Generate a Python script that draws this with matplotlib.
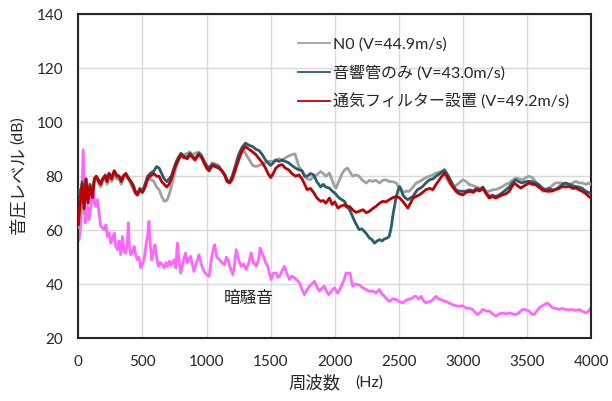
import matplotlib
matplotlib.use("Agg")
import matplotlib.pyplot as plt

plt.rcParams['font.family'] = ['Lato', 'Noto Sans CJK JP', 'DejaVu Sans']

# ---- data ----
label_n0 = "N0 (V=44.9m/s)"
label_tube = "音響管のみ (V=43.0m/s)"
label_filter = "通気フィルター設置 (V=49.2m/s)"
label_bg = "暗騒音"
xlabel_main, xlabel_unit = "周波数", "(Hz)"
ylabel_main, ylabel_unit = "音圧レベル", "(dB)"

freq_n0 = [0, 15, 30, 45, 60, 75, 90, 110, 125, 140, 160, 175, 190, 210, 225, 240, 260, 280, 300, 318,
           335, 350, 370, 390, 410, 430, 445, 460, 480, 500, 520, 540, 560, 590, 610, 630, 650, 670, 690, 707,
           725, 745, 760, 780, 800, 820, 850, 870, 890, 910, 940, 960, 980, 1000, 1020, 1045, 1070, 1095, 1120, 1145,
           1160, 1180, 1200, 1225, 1245, 1265, 1290, 1310, 1335, 1360, 1385, 1410, 1435, 1460, 1490, 1515, 1540, 1565, 1590, 1620,
           1640, 1665, 1690, 1705, 1720, 1745, 1765, 1785, 1810, 1835, 1860, 1890, 1910, 1930, 1958, 1980, 2000, 2010, 2035, 2060,
           2080, 2100, 2120, 2140, 2165, 2190, 2215, 2245, 2270, 2295, 2320, 2350, 2375, 2400, 2425, 2450, 2480, 2505, 2530, 2555,
           2580, 2610, 2635, 2660, 2685, 2710, 2740, 2765, 2790, 2815, 2840, 2860, 2880, 2900, 2920, 2945, 2970, 3000, 3025, 3050,
           3080, 3105, 3130, 3155, 3180, 3205, 3230, 3255, 3280, 3310, 3335, 3360, 3385, 3410, 3440, 3465, 3490, 3515, 3540, 3565,
           3590, 3620, 3645, 3670, 3695, 3720, 3750, 3775, 3800, 3830, 3855, 3880, 3905, 3930, 3960, 3980, 4000]
level_n0 = [61, 68, 72, 66, 77, 70, 75, 73, 78, 79, 77, 76, 78, 79, 77, 80, 78, 80.5, 79, 79,
            77, 79, 80.5, 79.5, 77, 75, 73.5, 73, 74.5, 74, 76, 78.5, 79, 78, 76, 75, 72.5, 70.7, 71, 73,
            76, 80, 83, 86, 87.5, 88, 88.5, 89, 88, 88.5, 89, 88, 86, 84, 83, 85, 84.5, 84, 82, 80,
            78.5, 77.5, 78.5, 82, 87, 88.6, 89.5, 88, 86, 84, 83.6, 84, 84.5, 85, 85.5, 85.5, 86, 86.5, 86, 87,
            87.5, 88, 88.3, 86, 83.6, 82, 80, 79, 78.7, 80, 80.5, 81.8, 81, 80, 81.2, 78.5, 76, 75.6, 78.5, 81.2,
            82.5, 83, 81.5, 80, 80.5, 80, 78.5, 77.5, 78.5, 78.1, 78.5, 77.5, 78.5, 78.7, 78, 78, 77.5, 75.5, 73.8, 74.5,
            74.4, 76, 77.5, 78, 78.7, 79.5, 80, 80.5, 81.2, 81.5, 81.8, 80.5, 78.5, 77, 76.2, 76.5, 77.5, 78.7, 78, 76.9,
            76.5, 76, 75.6, 75, 74.5, 74.4, 75, 75, 75.5, 76.2, 77, 77.5, 78.5, 79.3, 79, 78.7, 79.5, 80, 79.5, 78.1,
            76.5, 74.4, 75, 75.6, 76.5, 77.5, 77.5, 77.5, 77, 76.9, 77.5, 78.1, 77.5, 77.5, 77, 77.5, 76.9]

freq_tube = [0, 15, 30, 45, 60, 75, 90, 110, 125, 140, 160, 175, 190, 210, 225, 240, 260, 280, 300, 318,
             335, 350, 370, 390, 410, 430, 445, 460, 480, 500, 520, 540, 560, 590, 610, 630, 650, 670, 690, 707,
             725, 745, 760, 780, 800, 820, 850, 870, 890, 910, 940, 960, 980, 1000, 1020, 1045, 1070, 1095, 1120, 1145,
             1160, 1180, 1200, 1225, 1250, 1280, 1305, 1330, 1360, 1385, 1410, 1435, 1460, 1480, 1500, 1520, 1540, 1565, 1590, 1615,
             1640, 1665, 1695, 1720, 1745, 1765, 1785, 1810, 1835, 1860, 1890, 1910, 1930, 1958, 1980, 2000, 2035, 2075, 2095, 2115,
             2135, 2155, 2175, 2190, 2210, 2230, 2250, 2270, 2290, 2310, 2330, 2350, 2370, 2385, 2405, 2425, 2440, 2455, 2470, 2480,
             2495, 2505, 2520, 2530, 2550, 2570, 2590, 2610, 2630, 2645, 2665, 2685, 2710, 2740, 2765, 2790, 2820, 2855, 2875, 2895,
             2920, 2945, 2970, 3000, 3025, 3050, 3080, 3105, 3130, 3155, 3180, 3205, 3230, 3255, 3280, 3310, 3335, 3360, 3385, 3410,
             3435, 3460, 3490, 3515, 3540, 3565, 3590, 3620, 3645, 3670, 3695, 3720, 3750, 3775, 3800, 3830, 3855, 3880, 3905, 3930,
             3960, 3980, 4000]
level_tube = [75, 72, 78, 70, 79, 72, 77, 74, 79, 80, 78.5, 78, 79, 80.5, 78.5, 81, 79.5, 82, 80.5, 80,
              78.5, 80, 81, 79.5, 78, 76.5, 74.5, 73.5, 75.5, 74.5, 77, 80, 81, 82, 83.6, 83, 81, 79, 78, 79,
              80, 83, 85, 87, 88.5, 87.5, 87, 88.5, 87.5, 86.5, 88.5, 87.5, 85.5, 84, 83, 84.5, 84, 83.5, 82, 80.5,
              78.5, 78, 80, 84, 88, 91, 92.3, 91.5, 91, 90, 89.5, 88, 86, 85, 84, 85, 86, 85.5, 86, 85.5,
              85, 84, 83, 82.4, 82, 80, 80, 81, 80.5, 78, 76, 77, 76, 75.6, 74.5, 73.8, 71.9, 70.7, 69, 67.6,
              65.5, 63.3, 61.5, 60.2, 60.5, 59.6, 58.5, 57.1, 56.5, 55.2, 56, 56.5, 56, 56.7, 57, 57.7, 61, 66, 70, 72.5,
              75, 76.2, 75, 73.1, 72, 71.3, 72, 72.5, 74, 75, 75.5, 76.2, 77.5, 78.7, 79, 80, 81, 82.4, 81, 79.3,
              77, 75, 74.5, 74.4, 74.5, 75, 74.5, 75.5, 75, 76, 74, 72.5, 73, 72.5, 73, 74, 75, 76, 77.5, 78.7,
              78, 77.5, 78, 78.1, 78, 77.5, 77, 75.6, 75, 75.5, 75, 75, 76, 77, 77.5, 77, 76.5, 76.2, 76, 75.5,
              74.4, 74, 73.5]

freq_filter = [0, 15, 30, 45, 60, 75, 90, 110, 125, 140, 160, 175, 190, 210, 225, 240, 260, 280, 300, 318,
               335, 350, 370, 390, 410, 430, 445, 460, 480, 500, 520, 540, 560, 590, 610, 630, 650, 670, 690, 707,
               725, 745, 760, 780, 800, 820, 850, 870, 890, 910, 940, 960, 980, 1000, 1020, 1045, 1070, 1095, 1120, 1145,
               1160, 1180, 1200, 1225, 1250, 1280, 1305, 1330, 1360, 1385, 1410, 1435, 1460, 1480, 1500, 1520, 1540, 1565, 1590, 1615,
               1640, 1665, 1695, 1720, 1745, 1765, 1785, 1810, 1835, 1860, 1890, 1910, 1930, 1958, 1980, 2000, 2025, 2050, 2075, 2095,
               2115, 2140, 2165, 2190, 2220, 2245, 2270, 2295, 2320, 2350, 2375, 2400, 2425, 2450, 2480, 2505, 2530, 2550, 2570, 2590,
               2610, 2635, 2660, 2685, 2710, 2740, 2765, 2790, 2815, 2835, 2855, 2875, 2895, 2920, 2945, 2970, 3000, 3025, 3050, 3080,
               3105, 3130, 3155, 3180, 3205, 3230, 3255, 3280, 3310, 3335, 3360, 3380, 3400, 3425, 3450, 3480, 3515, 3540, 3565, 3590,
               3620, 3645, 3670, 3695, 3720, 3750, 3775, 3800, 3830, 3855, 3880, 3905, 3930, 3960, 3980, 4000]
level_filter = [62, 70, 77, 68, 79, 70, 76, 72, 79, 80, 78, 77, 79, 80, 78, 81, 79, 82, 80, 80,
                78, 80, 81, 79, 78, 76, 74, 73, 75, 74, 76, 79, 80, 81, 80, 80, 78, 77, 76, 77,
                79, 82, 84, 86, 88, 87, 86.5, 88, 87, 86, 88, 87, 85, 83, 82, 84, 83.5, 83, 82, 80,
                78, 77.5, 79, 82.5, 86, 89.8, 91, 90, 89, 88, 86.5, 85, 83, 81, 79.5, 81, 83, 84, 84.3, 83,
                82.4, 81, 80, 80.5, 79, 77, 75, 75.5, 74, 72, 70.7, 71, 70, 71.9, 69.5, 70.5, 68.2, 69, 69.4, 68.5,
                68.8, 67.5, 66.6, 67, 67.6, 66.5, 67, 68, 68.8, 70, 70.7, 70.5, 71.3, 72, 72.5, 72, 70.7, 69.5, 68.2, 70,
                71.9, 72.5, 73.1, 74, 75, 75.5, 75, 77, 78.7, 80, 81.2, 80, 78.1, 76, 74.4, 73.5, 73.1, 74, 74.4, 74,
                75, 74.5, 75.6, 73.5, 71.9, 72.5, 71.9, 72.5, 73.1, 73.5, 74.4, 76, 77.5, 76.5, 75.6, 76.5, 77.5, 77, 76.9, 76,
                75, 74.5, 74.4, 74.5, 75, 75.5, 76.2, 76, 76.2, 75.5, 75.6, 75, 74.4, 73.5, 72.5, 71.9]

freq_bg = [0, 6, 20, 38, 53, 71, 84, 100, 115, 125, 136, 150, 162, 175, 200, 215, 227, 240, 253, 265,
           280, 292, 305, 318, 330, 344, 357, 370, 382, 390, 398, 409, 422, 435, 447, 460, 473, 487, 500, 512,
           530, 540, 551, 560, 572, 585, 598, 611, 624, 640, 655, 670, 683, 694, 710, 720, 733, 746, 760, 772,
           785, 798, 812, 825, 837, 850, 863, 876, 890, 902, 915, 928, 941, 955, 968, 980, 1000, 1020, 1040, 1058,
           1063, 1080, 1101, 1120, 1140, 1155, 1166, 1185, 1205, 1218, 1231, 1250, 1270, 1290, 1309, 1330, 1348, 1365, 1387, 1405,
           1418, 1430, 1444, 1460, 1478, 1490, 1504, 1520, 1543, 1555, 1569, 1590, 1608, 1625, 1647, 1665, 1686, 1705, 1725, 1745,
           1763, 1785, 1802, 1820, 1841, 1860, 1880, 1900, 1919, 1935, 1953, 1975, 1997, 2023, 2045, 2062, 2075, 2088, 2105, 2120,
           2130, 2140, 2160, 2180, 2200, 2218, 2245, 2270, 2295, 2322, 2348, 2365, 2387, 2405, 2426, 2450, 2478, 2505, 2530, 2550,
           2569, 2590, 2608, 2620, 2634, 2655, 2673, 2690, 2712, 2730, 2750, 2770, 2789, 2810, 2828, 2848, 2867, 2890, 2919, 2945,
           2971, 2995, 3023, 3050, 3075, 3095, 3114, 3135, 3153, 3180, 3205, 3230, 3257, 3283, 3309, 3335, 3361, 3387, 3413, 3440,
           3465, 3490, 3516, 3535, 3555, 3575, 3594, 3620, 3640, 3659, 3680, 3698, 3725, 3750, 3775, 3802, 3830, 3854, 3880, 3906,
           3930, 3958, 3980, 3997]
level_bg = [56, 56.5, 62.7, 89.8, 62.7, 68.8, 63.9, 70, 77, 70, 68.8, 71.3, 66, 61.4, 60.2, 62, 57.7, 59, 55.2, 57,
            59, 54, 52.8, 56, 50.9, 57.7, 52, 51.5, 55, 62.7, 54, 50.9, 52, 54, 51, 49, 50, 46, 47.5, 49,
            55, 58, 63.3, 55, 49, 52, 54.6, 50, 46.6, 48, 47.2, 46, 48, 46.6, 48.5, 47, 47.8, 49, 46, 55.2,
            49, 44.1, 47, 50, 51.5, 48, 49.5, 50.3, 47, 44.7, 47, 49, 50.9, 48, 46, 44.7, 43.5, 42.9, 50, 54,
            54.6, 50, 49.1, 48, 47.2, 50, 49.1, 46, 43.5, 47, 52.8, 49, 46.6, 47.5, 45.4, 48, 51.5, 48, 46.6, 49,
            53.4, 52, 50.3, 48, 46.6, 44, 41.7, 44, 44.1, 42.5, 42.9, 45, 46.6, 44, 41.7, 43, 42.3, 41.5, 40.4, 38,
            36.1, 38, 39.2, 40, 41.1, 39, 37.4, 38.5, 39.2, 37.5, 36.1, 37.5, 38.6, 36.7, 38.5, 40.4, 42, 44.1, 44, 44.1,
            41, 39.2, 40, 39.8, 39.5, 38.6, 38, 37.3, 37.5, 36.7, 38, 36.5, 35.5, 34.5, 33.6, 34.5, 34.3, 33.5, 33, 33.8,
            34.3, 34.5, 34.9, 35.5, 35.5, 34.5, 35.5, 34, 33, 33.5, 33.6, 34.5, 35.5, 34.5, 34.3, 33.8, 33.6, 33, 32.4, 32,
            31.8, 32, 31.2, 31, 30.6, 29.5, 28.7, 29.5, 30.6, 30, 30, 29, 28.1, 29, 29.3, 29, 29.3, 29, 28.7, 29.5,
            30.6, 30.5, 30, 29, 28.7, 30, 31.2, 32, 32.5, 33, 32, 31.2, 31, 30.6, 31, 30.6, 30.5, 30.6, 30.2, 30.6,
            30, 29.3, 30, 31.2]

x_ticks = [0, 500, 1000, 1500, 2000, 2500, 3000, 3500, 4000]
y_ticks = [20, 40, 60, 80, 100, 120, 140]

# ---- figure ----
W, H = 612, 401
fig = plt.figure(figsize=(6.12, 4.01), dpi=100)
ax = fig.add_axes([0.128, 0.157, 0.838, 0.807])

LW = 2.0
ax.plot(freq_bg, level_bg, color='#ff66ff', lw=LW, zorder=2)
ax.plot(freq_n0, level_n0, color='#a0a0a0', lw=LW, label=label_n0, zorder=3)
ax.plot(freq_tube, level_tube, color='#255e6e', lw=LW, label=label_tube, zorder=4)
ax.plot(freq_filter, level_filter, color='#c00000', lw=LW, label=label_filter, zorder=5)

ax.set_xlim(0, 4000)
ax.set_ylim(20, 140)
ax.set_xticks(x_ticks)
ax.set_yticks(y_ticks)
ax.grid(True, color='#d9d9d9', lw=1.0, zorder=0)
ax.set_axisbelow(True)
ax.tick_params(length=0, labelsize=11, colors='#262626')
ax.tick_params(axis='x', pad=12)
ax.tick_params(axis='y', pad=11)
for s in ax.spines.values():
    s.set_color('#262626')
    s.set_linewidth(1.5)

ax.text(1330, 35, label_bg, fontsize=12, color='#262626', ha='center', va='center')

# axis titles (main part larger, unit smaller)
fig.text(314.5 / W, 1 - 383 / H, xlabel_main, fontsize=12.5, color='#262626', ha='center', va='center')
fig.text(369 / W, 1 - 383 / H, xlabel_unit, fontsize=11.5, color='#262626', ha='center', va='center')
fig.text(18 / W, 1 - 190.5 / H, ylabel_main, fontsize=12.5, color='#262626', ha='center', va='center', rotation=90)
fig.text(18 / W, 1 - 130 / H, ylabel_unit, fontsize=11.5, color='#262626', ha='center', va='center', rotation=90)

leg = ax.legend(loc='upper left', bbox_to_anchor=(0.415, 0.95), frameon=False, fontsize=11.5,
                handlelength=2.0, handletextpad=0.2, labelspacing=0.82, borderaxespad=0)
for t in leg.get_texts():
    t.set_color('#262626')
for l in leg.get_lines():
    l.set_linewidth(1.3)

fig.savefig('out.png', dpi=100)
